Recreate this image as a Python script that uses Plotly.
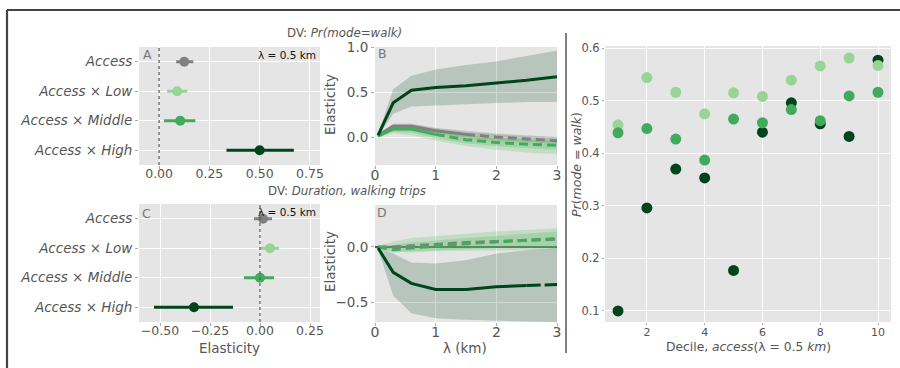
import plotly.graph_objects as go

W, H = 900, 368

# ---------------- data ----------------
cats = ["Access", "Access × Low", "Access × Middle", "Access × High"]
cat_labels = ["<i>Access</i>", "<i>Access × Low</i>", "<i>Access × Middle</i>", "<i>Access × High</i>"]

# Panel A: DV Pr(mode=walk), lambda = 0.5 km
a_est = [0.125, 0.09, 0.105, 0.50]
a_lo = [0.085, 0.04, 0.025, 0.335]
a_hi = [0.17, 0.14, 0.18, 0.67]

# Panel C: DV duration, lambda = 0.5 km
c_est = [0.015, 0.05, 0.0, -0.33]
c_lo = [-0.03, 0.0, -0.08, -0.53]
c_hi = [0.06, 0.095, 0.07, -0.135]

# Panels B / D: elasticity vs lambda
lam = [0.05, 0.3, 0.6, 1.0, 1.5, 2.0, 2.5, 3.0]

b_high = [0.02, 0.38, 0.52, 0.55, 0.57, 0.60, 0.63, 0.67]
b_high_lo = [0.01, 0.26, 0.34, 0.35, 0.37, 0.38, 0.39, 0.39]
b_high_hi = [0.03, 0.53, 0.68, 0.75, 0.80, 0.84, 0.90, 0.96]
b_acc = [0.02, 0.12, 0.12, 0.07, 0.03, 0.00, -0.02, -0.04]
b_acc_lo = [0.01, 0.09, 0.09, 0.04, -0.01, -0.04, -0.06, -0.07]
b_acc_hi = [0.03, 0.15, 0.15, 0.10, 0.07, 0.04, 0.02, 0.00]
b_mid = [0.01, 0.09, 0.09, 0.03, -0.03, -0.06, -0.08, -0.09]
b_mid_lo = [0.0, 0.06, 0.05, -0.01, -0.07, -0.10, -0.12, -0.14]
b_mid_hi = [0.02, 0.12, 0.12, 0.07, 0.02, -0.01, -0.03, -0.04]
b_low = [0.01, 0.08, 0.08, 0.03, -0.02, -0.05, -0.07, -0.08]
b_low_lo = [0.0, 0.04, 0.02, -0.04, -0.10, -0.14, -0.17, -0.19]
b_low_hi = [0.02, 0.14, 0.14, 0.10, 0.06, 0.03, 0.01, 0.00]

d_high = [-0.01, -0.23, -0.33, -0.385, -0.385, -0.36, -0.35, -0.34]
d_high_lo = [-0.02, -0.44, -0.60, -0.645, -0.66, -0.67, -0.675, -0.68]
d_high_hi = [0.0, -0.06, -0.14, -0.15, -0.12, -0.06, -0.03, -0.01]
d_acc = [0.0, 0.0, 0.01, 0.025, 0.04, 0.05, 0.06, 0.07]
d_mid = [0.0, -0.025, -0.01, 0.01, 0.03, 0.045, 0.06, 0.075]
d_mid_lo = [-0.01, -0.05, -0.04, -0.03, -0.02, -0.01, 0.0, 0.0]
d_mid_hi = [0.01, 0.02, 0.04, 0.06, 0.08, 0.10, 0.12, 0.14]
d_low = [0.0, -0.01, 0.0, 0.02, 0.035, 0.05, 0.06, 0.07]
d_low_lo = [-0.01, -0.04, -0.05, -0.04, -0.035, -0.03, -0.03, -0.03]
d_low_hi = [0.01, 0.05, 0.08, 0.095, 0.12, 0.14, 0.155, 0.17]

# Right panel: Pr(mode = walk) by access decile
deciles = [1, 2, 3, 4, 5, 6, 7, 8, 9, 10]
pr_low = [0.454, 0.544, 0.516, 0.475, 0.515, 0.508, 0.539, 0.566, 0.581, 0.567]
pr_mid = [0.439, 0.447, 0.427, 0.387, 0.465, 0.458, 0.483, 0.462, 0.509, 0.516]
pr_high = [0.10, 0.296, 0.37, 0.353, 0.177, 0.44, 0.496, 0.456, 0.432, 0.577]

# ---------------- style ----------------
FONT = "DejaVu Sans"
GREY_TXT = "#555555"
C_ACC = "#808080"
C_LOW = "#98d594"
C_MID = "#41ab5d"
C_HIGH = "#00441b"
colors = [C_ACC, C_LOW, C_MID, C_HIGH]
BAND_HIGH = "rgba(0,68,27,0.20)"
BAND_ACC = "rgba(110,110,110,0.25)"
BAND_MID = "rgba(65,171,93,0.22)"
BAND_LOW = "rgba(130,205,130,0.35)"


def dx(p0, p1):
    return [p0 / W, p1 / W]


def dy(top, bottom):
    return [1 - bottom / H, 1 - top / H]


fig = go.Figure()

# ---- coefficient panels A (x,y) and C (x2,y2)
for est, lo, hi, ax in [(a_est, a_lo, a_hi, ("x", "y")), (c_est, c_lo, c_hi, ("x2", "y2"))]:
    for i, cat in enumerate(cats):
        fig.add_trace(go.Scatter(
            x=[est[i]], y=[cat], mode="markers",
            marker=dict(color=colors[i], size=10),
            error_x=dict(type="data", array=[hi[i] - est[i]], arrayminus=[est[i] - lo[i]],
                         thickness=3, width=0, color=colors[i]),
            xaxis=ax[0], yaxis=ax[1], showlegend=False, hoverinfo="skip"))


def band(xs, lo, hi, color, ax):
    fig.add_trace(go.Scatter(x=xs, y=hi, mode="lines", line=dict(width=0), xaxis=ax[0], yaxis=ax[1],
                             showlegend=False, hoverinfo="skip"))
    fig.add_trace(go.Scatter(x=xs, y=lo, mode="lines", line=dict(width=0), fill="tonexty",
                             fillcolor=color, xaxis=ax[0], yaxis=ax[1], showlegend=False, hoverinfo="skip"))


def line(xs, ys, color, ax, dash="solid", width=3):
    fig.add_trace(go.Scatter(x=xs, y=ys, mode="lines", line=dict(color=color, width=width, dash=dash),
                             xaxis=ax[0], yaxis=ax[1], showlegend=False, hoverinfo="skip"))


DASH = "9px,5px"
# ---- Panel B (x3,y3)
axB = ("x3", "y3")
band(lam, b_high_lo, b_high_hi, BAND_HIGH, axB)
band(lam, b_low_lo, b_low_hi, BAND_LOW, axB)
band(lam, b_mid_lo, b_mid_hi, BAND_MID, axB)
band(lam, b_acc_lo, b_acc_hi, BAND_ACC, axB)
line(lam, b_low, C_LOW, axB, DASH)
k = 4
line(lam[:k + 1], b_acc[:k + 1], C_ACC, axB)
line(lam[k:], b_acc[k:], C_ACC, axB, DASH)
k = 3
line(lam[:k + 1], b_mid[:k + 1], C_MID, axB)
line(lam[k:], b_mid[k:], C_MID, axB, DASH)
line(lam, b_high, C_HIGH, axB)

# ---- Panel D (x4,y4)
axD = ("x4", "y4")
band(lam, d_high_lo, d_high_hi, BAND_HIGH, axD)
band(lam, d_low_lo, d_low_hi, BAND_LOW, axD)
band(lam, d_mid_lo, d_mid_hi, BAND_MID, axD)
line(lam, d_low, C_LOW, axD, DASH)
line(lam, d_acc, C_ACC, axD, DASH)
line(lam, d_mid, C_MID, axD, DASH)
k = 6
line(lam[:k + 1], d_high[:k + 1], C_HIGH, axD)
line(lam[k:], d_high[k:], C_HIGH, axD, "14px,4px,40px")

# ---- Right panel (x5,y5)
for ys, c in [(pr_high, C_HIGH), (pr_low, C_LOW), (pr_mid, C_MID)]:
    fig.add_trace(go.Scatter(x=deciles, y=ys, mode="markers", marker=dict(color=c, size=11),
                             xaxis="x5", yaxis="y5", showlegend=False, hoverinfo="skip"))

# ---------------- axes ----------------
common = dict(showgrid=True, gridcolor="white", gridwidth=1, zeroline=False, showline=False, automargin=False,
              ticks="outside", ticklen=3, tickcolor="#aaaaaa", tickfont=dict(family=FONT, color=GREY_TXT))

layout = dict(
    template="none",
    width=W, height=H, margin=dict(l=0, r=0, t=0, b=0, pad=0), autosize=False,
    paper_bgcolor="white", plot_bgcolor="#e5e5e5", showlegend=False,
    font=dict(family=FONT, color=GREY_TXT),
)

XSTAND = -6
# A
layout["xaxis"] = dict(common, domain=dx(139, 320), anchor="y", range=[-0.1, 0.8], ticklabelstandoff=XSTAND,
                       tickvals=[0, 0.25, 0.5, 0.75], tickformat=".2f", tickfont=dict(family=FONT, color=GREY_TXT, size=12.5))
layout["yaxis"] = dict(common, domain=dy(47, 165), anchor="x", type="category", categoryorder="array",
                       categoryarray=cats, range=[3.5, -0.5], tickvals=cats, ticktext=cat_labels,
                       tickfont=dict(family=FONT, color=GREY_TXT, size=13.5))
# C
layout["xaxis2"] = dict(common, domain=dx(139, 320), anchor="y2", range=[-0.605, 0.3], ticklabelstandoff=XSTAND,
                        tickvals=[-0.5, -0.25, 0, 0.25], tickformat=".2f", tickfont=dict(family=FONT, color=GREY_TXT, size=12.5))
layout["yaxis2"] = dict(common, domain=dy(204, 322), anchor="x2", type="category", categoryorder="array",
                        categoryarray=cats, range=[3.5, -0.5], tickvals=cats, ticktext=cat_labels,
                        tickfont=dict(family=FONT, color=GREY_TXT, size=13.5))
# B
layout["xaxis3"] = dict(common, domain=dx(375, 557), anchor="y3", range=[0, 3], tickvals=[0, 1, 2, 3],
                        ticklabelstandoff=XSTAND, tickfont=dict(family=FONT, color=GREY_TXT, size=14))
layout["yaxis3"] = dict(common, domain=dy(47, 165), anchor="x3", range=[-0.31, 1.0], tickvals=[0, 0.5, 1.0],
                        tickformat=".1f", tickfont=dict(family=FONT, color=GREY_TXT, size=13.5))
# D
layout["xaxis4"] = dict(common, domain=dx(375, 557), anchor="y4", range=[0, 3], tickvals=[0, 1, 2, 3],
                        ticklabelstandoff=XSTAND, tickfont=dict(family=FONT, color=GREY_TXT, size=14))
layout["yaxis4"] = dict(common, domain=dy(205, 322), anchor="x4", range=[-0.68, 0.38], tickvals=[-0.5, 0.0],
                        tickformat=".1f", zeroline=True, zerolinecolor="#555555", zerolinewidth=1.5,
                        tickfont=dict(family=FONT, color=GREY_TXT, size=13.5))
# Right
layout["xaxis5"] = dict(common, domain=dx(605, 891), anchor="y5", range=[0.55, 10.45], tickvals=[2, 4, 6, 8, 10],
                        ticklen=2, ticklabelstandoff=-2, tickfont=dict(family=FONT, color=GREY_TXT, size=11))
layout["yaxis5"] = dict(common, domain=dy(46, 322), anchor="x5", range=[0.079, 0.604],
                        tickvals=[0.1, 0.2, 0.3, 0.4, 0.5, 0.6], tickformat=".1f", ticklen=2,
                        tickfont=dict(family=FONT, color=GREY_TXT, size=11.5))

fig.update_layout(**layout)

# zero reference lines in A and C
for xr, yr in [("x", "y"), ("x2", "y2")]:
    fig.add_shape(type="line", xref=xr, yref=yr + " domain", x0=0, x1=0, y0=0, y1=1,
                  line=dict(color="#555555", width=1.2, dash="dot"), layer="above")

# frame and divider
fig.add_shape(type="line", xref="paper", yref="paper", x0=7 / W, x1=7 / W, y0=0, y1=1 - 10 / H,
              line=dict(color="#444444", width=2.2))
fig.add_shape(type="line", xref="paper", yref="paper", x0=7 / W, x1=1, y0=1 - 10 / H, y1=1 - 10 / H,
              line=dict(color="#444444", width=2.2))
fig.add_shape(type="line", xref="paper", yref="paper", x0=566 / W, x1=566 / W, y0=1 - 353 / H, y1=1 - 33 / H,
              line=dict(color="#555555", width=1.5))


def ann(text, x, y, size, color=GREY_TXT, xanchor="center", angle=0):
    fig.add_annotation(text=text, x=x / W, y=1 - y / H, xref="paper", yref="paper", showarrow=False,
                       xanchor=xanchor, yanchor="middle", textangle=angle,
                       font=dict(family=FONT, size=size, color=color))


ann("DV: <i>Pr(mode=walk)</i>", 344, 33, 11.8)
ann("DV: <i>Duration, walking trips</i>", 347, 191, 11.8)
ann("A", 147, 55, 12.5, "#777777")
ann("B", 382, 53, 12.5, "#777777")
ann("C", 146, 213, 12.5, "#777777")
ann("D", 382, 212, 12.5, "#777777")
ann("λ = 0.5 km", 318, 55, 10.5, "#111111", xanchor="right")
ann("λ = 0.5 km", 318, 212, 10.5, "#111111", xanchor="right")
ann("Elasticity", 330, 105, 13.5, angle=-90)
ann("Elasticity", 330, 262, 13.5, angle=-90)
ann("Elasticity", 230, 348, 13.5)
ann("λ (km)", 465, 348, 13.5)
ann("<i>Pr</i>(<i>mode</i> = <i>walk</i>)", 576, 165, 12.5, angle=-90)
ann("Decile, <i>access</i>(λ = 0.5 <i>km</i>)", 748, 347, 12.3)

fig.write_html("out.html", post_script="document.body.style.margin='0';",
               config={"displayModeBar": False})
